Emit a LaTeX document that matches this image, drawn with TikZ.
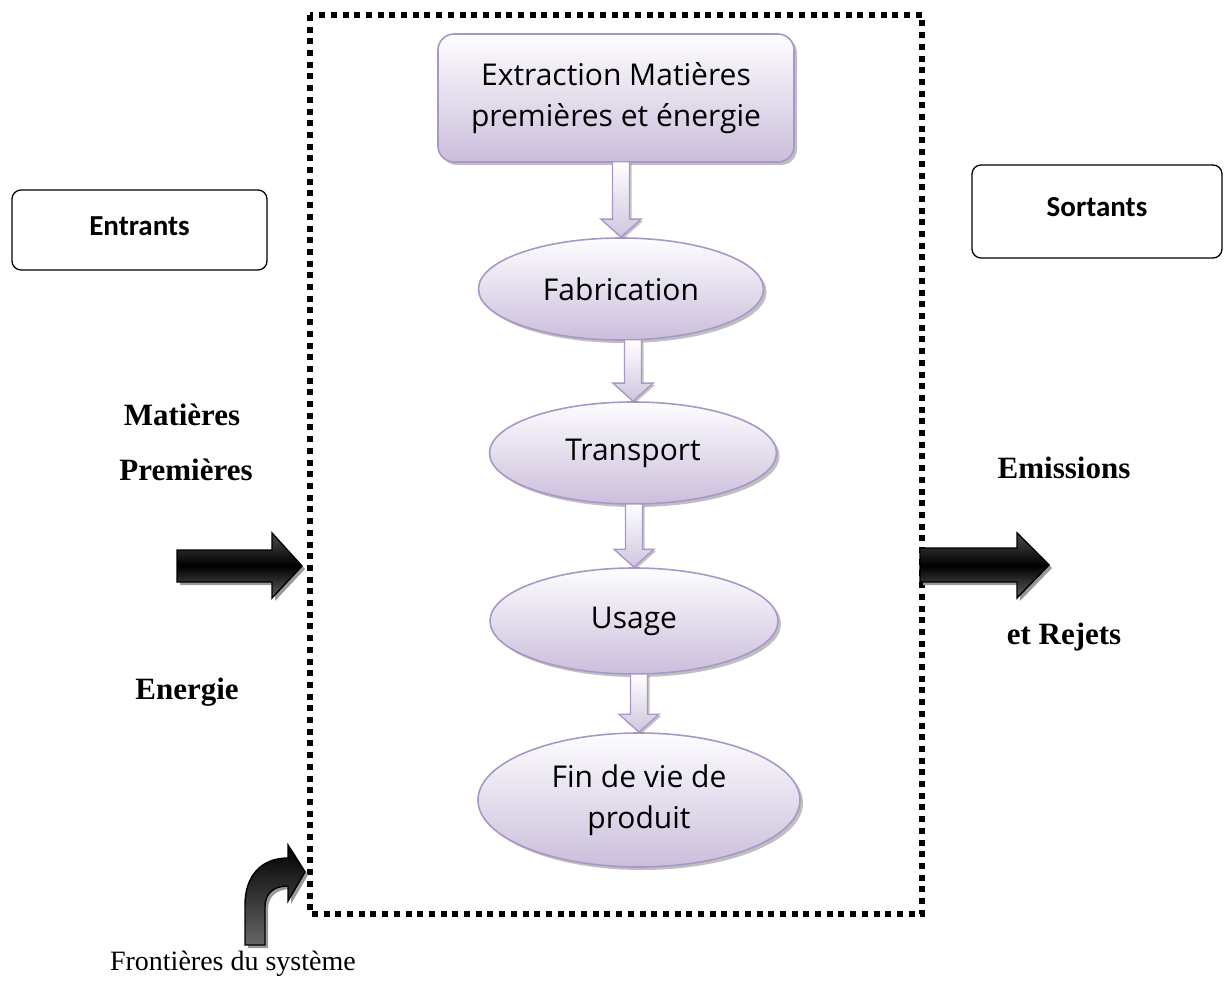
\documentclass[tikz,border=0pt]{standalone}
\usepackage{fontspec}
\setmainfont{Liberation Serif}
\newfontfamily\flowfont{Open Sans}
\newfontfamily\boxfont{Carlito}
\usetikzlibrary{shapes.geometric,shadows,calc}

\definecolor{lavborder}{HTML}{A898C8}
\definecolor{lavtop}{HTML}{FDFDFE}
\definecolor{lavbot}{HTML}{CBBEDC}

\tikzset{
  stagebase/.style={draw=lavborder, line width=1.6pt,
    top color=lavtop, bottom color=lavbot,
    drop shadow={shadow xshift=3pt, shadow yshift=-3pt, fill=black!45, opacity=0.55},
    font=\flowfont\fontsize{30}{41}\selectfont, align=center, inner sep=0pt},
  stagebox/.style={stagebase, rectangle, rounded corners=16pt},
  stageell/.style={stagebase, ellipse},
  flowarrow/.style={draw=lavborder, line width=1.4pt, line join=miter,
    top color=white, bottom color=lavbot!90,
    drop shadow={shadow xshift=2pt, shadow yshift=-2pt, fill=black!45, opacity=0.5}},
  bigarrow/.style={draw=black, line width=1.4pt, line join=miter,
    top color=black!70, bottom color=black!62, middle color=black,
    drop shadow={shadow xshift=3pt, shadow yshift=-3pt, fill=black!40, opacity=1}},
  curvearrow/.style={draw=black, line width=1.4pt, line join=miter,
    top color=black, bottom color=black!60,
    drop shadow={shadow xshift=3pt, shadow yshift=-3pt, fill=black!40, opacity=1}},
  sidebox/.style={draw=black, line width=1.3pt, rounded corners=9pt,
    font=\boxfont\bfseries\fontsize{29}{34}\selectfont, inner sep=0pt},
  sidelabel/.style={font=\bfseries\fontsize{31}{36}\selectfont, inner sep=0pt},
  frontier/.style={draw=black, line width=5.5pt, dash pattern=on 6pt off 5.7pt}
}

% hollow downward block arrow between two stages
\newcommand\stagelink[2]{%
  \path let \p1=(#1.south), \p2=(#2.north) in
    [flowarrow] (\x2-8.5pt,\y1+1pt) -- (\x2+8.5pt,\y1+1pt) -- (\x2+8.5pt,\y2+18pt)
    -- (\x2+20pt,\y2+18pt) -- (\x2,\y2) -- (\x2-20pt,\y2+18pt)
    -- (\x2-8.5pt,\y2+18pt) -- cycle;}

\begin{document}
\begin{tikzpicture}[x=1pt,y=-1pt]
\useasboundingbox[fill=white] (0,0) rectangle (1224,981);

% system boundary
\draw[frontier] (310,15) rectangle (922,914);

% life-cycle stages
\node[stagebox, minimum width=356pt, minimum height=128pt] (ext) at (616,98)
  {Extraction Matières\\premières et énergie};
\node[stageell, minimum width=285pt, minimum height=102pt] (fab) at (621,289) {Fabrication};
\node[stageell, minimum width=287pt, minimum height=102pt] (tra) at (633,453) {Transport};
\node[stageell, minimum width=288pt, minimum height=106pt] (usa) at (634,621) {Usage};
\node[stageell, minimum width=322pt, minimum height=134pt] (fin) at (639,800)
  {Fin de vie de\\produit};

\stagelink{ext}{fab}
\stagelink{fab}{tra}
\stagelink{tra}{usa}
\stagelink{usa}{fin}

% inputs / outputs headers
\node[sidebox, minimum width=255pt, minimum height=80pt] (ent) at (139.5,230)
  {\raisebox{7pt}{Entrants}};
\node[sidebox, minimum width=250pt, minimum height=93pt] (sor) at (1097,211.5)
  {\raisebox{9pt}{Sortants}};

% side labels
\node[sidelabel] (mat) at (182,415) {Matières};
\node[sidelabel] (pre) at (186,470) {Premières};
\node[sidelabel] (ene) at (187,692) {Energie};
\node[sidelabel] (emi) at (1064,468) {Emissions};
\node[sidelabel] (rej) at (1064,637) {et Rejets};

% flow arrows in and out of the system
\path[bigarrow] (177,550) -- (272,550) -- (272,533) -- (302,566) -- (272,598)
  -- (272,582) -- (177,582) -- cycle;
\path[bigarrow] (920,548) -- (1017,548) -- (1017,533) -- (1049,565) -- (1017,598)
  -- (1017,582) -- (920,582) -- cycle;

% pointer to the boundary
\path[curvearrow] (245,945) -- (245,905)
  .. controls (245,875) and (262,858) .. (288,858) -- (288,845) -- (305,872)
  -- (288,901) -- (288,886) .. controls (274,886) and (265,893) .. (265,907)
  -- (265,945) -- cycle;
\node[anchor=base east, font=\fontsize{28}{33}\selectfont, inner sep=0pt] (front)
  at (356,970) {Frontières du système};
\end{tikzpicture}
\end{document}
